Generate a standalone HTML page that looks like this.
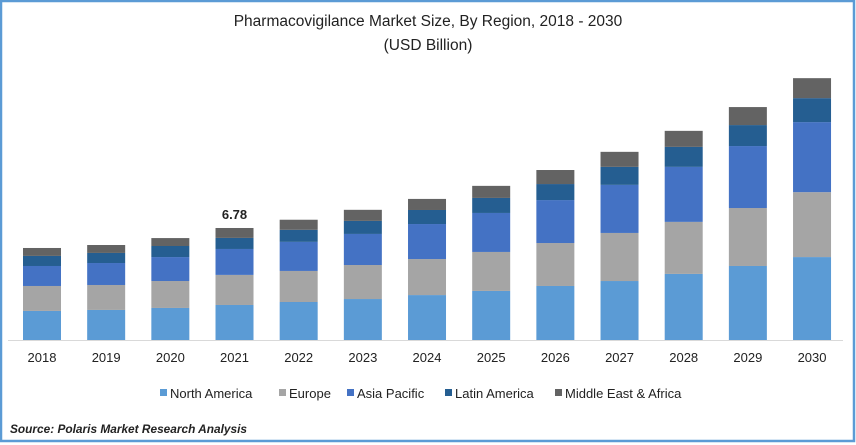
<!DOCTYPE html>
<html><head><meta charset="utf-8"><style>
body{margin:0;background:#fff;}
#wrap{position:relative;width:856px;height:445px;overflow:hidden;font-family:"Liberation Sans",sans-serif;}
svg text{font-family:"Liberation Sans",sans-serif;}
</style></head><body>
<div id="wrap">
<svg id="chart" width="856" height="445">
<rect x="1" y="1" width="853" height="440" fill="#fff" stroke="#5b9bd5" stroke-width="2.5"/>
<text x="428" y="26" text-anchor="middle" font-size="15.5" fill="#222">Pharmacovigilance Market Size, By Region, 2018 - 2030</text>
<text x="428" y="50" text-anchor="middle" font-size="15.5" fill="#222">(USD Billion)</text>
<line x1="8" y1="340.5" x2="843" y2="340.5" stroke="#d9d9d9"/>
<g id="bars"></g>
<g id="xlabels"></g>
<g id="legend"></g>
<text x="10" y="433" font-size="12" font-weight="bold" font-style="italic" fill="#222" textLength="237" lengthAdjust="spacingAndGlyphs">Source: Polaris Market Research Analysis</text>
</svg>
</div>
<script>
const years=["2018","2019","2020","2021","2022","2023","2024","2025","2026","2027","2028","2029","2030"];
const northAmerica=[1.76,1.82,1.94,2.12,2.30,2.48,2.72,2.97,3.27,3.57,4.00,4.48,5.02];
const europe=[1.51,1.51,1.63,1.82,1.88,2.06,2.18,2.36,2.60,2.91,3.15,3.51,3.93];
const asiaPacific=[1.21,1.33,1.45,1.57,1.76,1.88,2.12,2.36,2.60,2.91,3.33,3.75,4.24];
const latinAmerica=[0.61,0.61,0.67,0.67,0.73,0.79,0.85,0.91,0.97,1.09,1.21,1.27,1.45];
const middleEastAfrica=[0.48,0.48,0.48,0.60,0.61,0.67,0.67,0.73,0.85,0.91,0.97,1.09,1.21];
const seriesNames=["North America","Europe","Asia Pacific","Latin America","Middle East & Africa"];
const annotatedIndex=3;
const annotatedLabel="6.78";

const NS="http://www.w3.org/2000/svg";
const colors=["#5b9bd5","#a5a5a5","#4472c4","#255e91","#636363"];
const series=[northAmerica,europe,asiaPacific,latinAmerica,middleEastAfrica];
const baseY=340, pxPerUnit=16.52, barW=38;
function xC(i){return 42+i*64.17;}
function yS(v){return baseY-v*pxPerUnit;}
const gb=document.getElementById('bars'),gx=document.getElementById('xlabels'),gl=document.getElementById('legend');
years.forEach((yr,i)=>{
  let cum=0;
  series.forEach((s,k)=>{
    const r=document.createElementNS(NS,'rect');
    const y0=yS(cum),y1=yS(cum+s[i]);
    r.setAttribute('x',xC(i)-barW/2);r.setAttribute('y',y1);
    r.setAttribute('width',barW);r.setAttribute('height',y0-y1);
    r.setAttribute('fill',colors[k]);
    
    
    gb.appendChild(r);
    cum+=s[i];
  });
  if(i===annotatedIndex){
    const t=document.createElementNS(NS,'text');
    t.setAttribute('x',xC(i));t.setAttribute('y',yS(cum)-9);
    t.setAttribute('text-anchor','middle');t.setAttribute('font-size','13');t.setAttribute('font-weight','bold');t.setAttribute('fill','#222');
    t.textContent=annotatedLabel;
    
    
    gb.appendChild(t);
  }
  const t=document.createElementNS(NS,'text');
  t.setAttribute('x',xC(i));t.setAttribute('y',362);t.setAttribute('text-anchor','middle');
  t.setAttribute('font-size','13');t.setAttribute('fill','#222');t.textContent=yr;
  
  
  gx.appendChild(t);
});
const legX=[160,279,347,445,555];
seriesNames.forEach((n,k)=>{
  const g=document.createElementNS(NS,'g');
  
  
  const r=document.createElementNS(NS,'rect');
  r.setAttribute('x',legX[k]);r.setAttribute('y',389);r.setAttribute('width',7);r.setAttribute('height',7);r.setAttribute('fill',colors[k]);
  const t=document.createElementNS(NS,'text');
  t.setAttribute('x',legX[k]+10);t.setAttribute('y',398);t.setAttribute('font-size','13');t.setAttribute('fill','#222');t.textContent=n;
  g.appendChild(r);g.appendChild(t);gl.appendChild(g);
});
</script>
</body></html>
